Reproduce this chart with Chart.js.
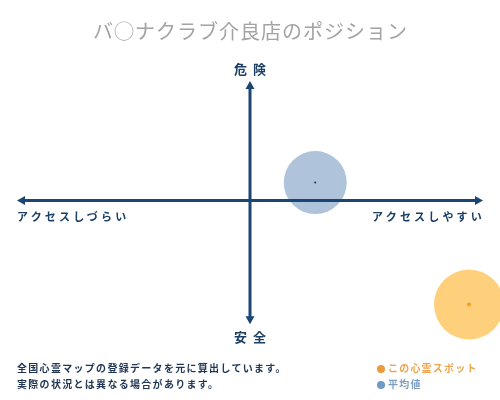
<!DOCTYPE html>
<html>
<head>
<meta charset="utf-8">
<script src="https://cdn.jsdelivr.net/npm/chart.js@4.4.1/dist/chart.umd.min.js"></script>
<style>
  html, body { margin: 0; padding: 0; background: #fff; }
  #wrap { position: relative; width: 500px; height: 400px; overflow: hidden; font-family: "Noto Sans CJK JP", "Noto Sans", sans-serif; }
  #c { position: absolute; left: 0; top: 0; }
  .t { position: absolute; line-height: 1; white-space: nowrap; transform: translateY(-50%); }
  #title { left: 0; width: 500px; text-align: center; top: 31px; font-size: 20px; color: #a3a3a3; letter-spacing: 1px; padding-left: 1px; box-sizing: border-box; }
  .ax { font-weight: bold; color: #1c3f66; }
  #top { left: 0; width: 500px; text-align: center; top: 68px; font-size: 13px; letter-spacing: 6px; padding-left: 6px; box-sizing: border-box; }
  #bot { left: 0; width: 500px; text-align: center; top: 336px; font-size: 13px; letter-spacing: 6px; padding-left: 6px; box-sizing: border-box; }
  #lft { left: 17px; top: 216px; font-size: 11px; letter-spacing: 3.2px; }
  #rgt { right: 15px; top: 216px; font-size: 11px; letter-spacing: 3.2px; }
  .note { left: 17px; font-size: 10px; letter-spacing: 1.3px; font-weight: bold; color: #1f3655; }
  #n1 { top: 368px; }
  #n2 { top: 384px; }
  .lg { left: 377px; font-size: 10px; letter-spacing: 1.2px; font-weight: bold; }
  .lg i { display: inline-block; width: 8px; height: 8px; border-radius: 50%; margin-right: 3px; vertical-align: -0.5px; }
  #l1 { top: 368px; color: #eda44e; }
  #l1 i { background: #ee9a3a; }
  #l2 { top: 384px; color: #7f9fc2; }
  #l2 i { background: #6f9ac4; }
</style>
</head>
<body>
<div id="wrap">
  <canvas id="c" width="500" height="400"></canvas>
  <div class="t" id="title">バ◯ナクラブ介良店のポジション</div>
  <div class="t ax" id="top">危険</div>
  <div class="t ax" id="bot">安全</div>
  <div class="t ax" id="lft">アクセスしづらい</div>
  <div class="t ax" id="rgt">アクセスしやすい</div>
  <div class="t note" id="n1">全国心霊マップの登録データを元に算出しています。</div>
  <div class="t note" id="n2">実際の状況とは異なる場合があります。</div>
  <div class="t lg" id="l1"><i></i>この心霊スポット</div>
  <div class="t lg" id="l2"><i></i>平均値</div>
</div>
<script>
// Data (x: access ease -100..100, y: danger -100..100)
const seriesLabels = ["この心霊スポット", "平均値"];
const spotPoint = [{ x: 94, y: -87 }];
const averagePoint = [{ x: 28, y: 15 }];
const xAxisRange = [-100, 100];
const yAxisRange = [-103.5, 100];

const AXIS_COLOR = "#1b4573";

const axesPlugin = {
  id: "crossAxes",
  afterDatasetsDraw(chart) {
    const ctx = chart.ctx;
    const xs = chart.scales.x, ys = chart.scales.y;
    const x0 = xs.getPixelForValue(xAxisRange[0]), x1 = xs.getPixelForValue(xAxisRange[1]);
    const y0 = ys.getPixelForValue(yAxisRange[1]), y1 = ys.getPixelForValue(yAxisRange[0]);
    const cx = xs.getPixelForValue(0), cy = ys.getPixelForValue(0);
    ctx.save();
    ctx.strokeStyle = AXIS_COLOR;
    ctx.fillStyle = AXIS_COLOR;
    ctx.lineWidth = 3;
    ctx.beginPath();
    ctx.moveTo(x0 + 5, cy); ctx.lineTo(x1 - 5, cy);
    ctx.moveTo(cx, y0 + 5); ctx.lineTo(cx, y1 - 5);
    ctx.stroke();
    const ah = 8, aw = 4.5;
    ctx.beginPath();
    ctx.moveTo(x0, cy); ctx.lineTo(x0 + ah, cy - aw); ctx.lineTo(x0 + ah, cy + aw); ctx.closePath();
    ctx.moveTo(x1, cy); ctx.lineTo(x1 - ah, cy - aw); ctx.lineTo(x1 - ah, cy + aw); ctx.closePath();
    ctx.moveTo(cx, y0); ctx.lineTo(cx - aw, y0 + ah); ctx.lineTo(cx + aw, y0 + ah); ctx.closePath();
    ctx.moveTo(cx, y1); ctx.lineTo(cx - aw, y1 - ah); ctx.lineTo(cx + aw, y1 - ah); ctx.closePath();
    ctx.fill();
    ctx.restore();
  }
};

new Chart(document.getElementById("c"), {
  type: "scatter",
  data: {
    datasets: [
      { label: seriesLabels[1], data: averagePoint, pointRadius: 31.5, backgroundColor: "#afc3da", borderWidth: 0, clip: false, order: 4 },
      { label: seriesLabels[0], data: spotPoint, pointRadius: 35, backgroundColor: "#fed07c", borderWidth: 0, clip: false, order: 3 },
      { label: seriesLabels[1] + "中心", data: averagePoint, pointRadius: 1, backgroundColor: "#1c3350", borderWidth: 0, clip: false, order: 2 },
      { label: seriesLabels[0] + "中心", data: spotPoint, pointRadius: 2, backgroundColor: "#f3a21f", borderWidth: 0, clip: false, order: 1 }
    ]
  },
  options: {
    responsive: false,
    animation: false,
    events: [],
    layout: { autoPadding: false, padding: { left: 17, right: 17, top: 81, bottom: 80 } },
    scales: {
      x: { display: false, min: xAxisRange[0], max: xAxisRange[1] },
      y: { display: false, min: -100, max: 100 }
    },
    plugins: { legend: { display: false }, title: { display: false }, tooltip: { enabled: false } }
  },
  plugins: [axesPlugin]
});
</script>
</body>
</html>
